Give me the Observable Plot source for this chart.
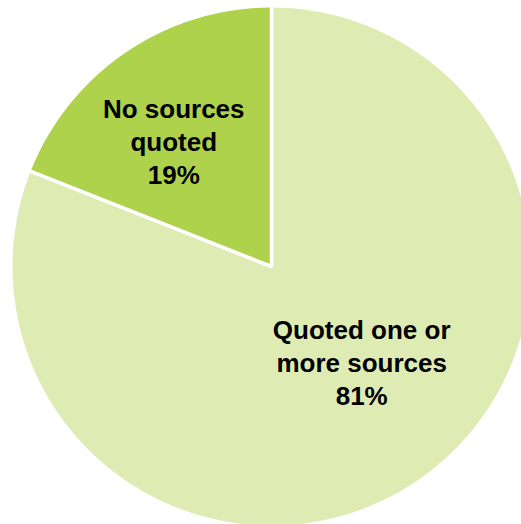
<!DOCTYPE html>
<html>
<head>
<meta charset="utf-8">
<script src="https://cdn.jsdelivr.net/npm/d3@7"></script>
<script src="https://cdn.jsdelivr.net/npm/@observablehq/plot@0.6"></script>
<style>
  html, body { margin: 0; padding: 0; background: #fff; overflow: hidden; }
</style>
</head>
<body>
<div id="chart"></div>
<script>
// Data
const categories = ["Quoted one or more sources", "No sources quoted"];
const labels = ["Quoted one or\nmore sources\n81%", "No sources\nquoted\n19%"];
const shares = [81, 19];
const colors = ["#deecb4", "#aed24b"];

// Build slice polygons (unit circle, clockwise from 12 o'clock)
const pie = d3.pie().sort(null).value((d, i) => shares[i])(categories);
const pts = [];
pie.forEach((p, i) => {
  const n = Math.max(2, Math.ceil((p.endAngle - p.startAngle) / (Math.PI / 360)));
  pts.push({cat: categories[i], x: 0, y: 0});
  for (let k = 0; k <= n; k++) {
    const a = p.startAngle + (p.endAngle - p.startAngle) * k / n;
    pts.push({cat: categories[i], x: Math.sin(a), y: Math.cos(a)});
  }
});

const labelPos = [
  {x: 0.346, y: -0.365},
  {x: -0.375, y: 0.482}
];
const labelData = categories.map((c, i) => ({cat: c, text: labels[i], ...labelPos[i]}));

const chart = Plot.plot({
  width: 521,
  height: 524,
  margin: 0,
  x: {domain: [-1, 1], range: [10.3, 531.7], axis: null},
  y: {domain: [-1, 1], range: [526.7, 5.3], axis: null},
  color: {domain: categories, range: colors},
  style: {background: "#fff", overflow: "hidden"},
  marks: [
    Plot.line(pts, {
      x: "x", y: "y", z: "cat", fill: "cat",
      stroke: "#fff", strokeWidth: 3.5, strokeLinejoin: "miter",
      curve: "linear-closed"
    }),
    Plot.text(labelData, {
      x: "x", y: "y", text: "text",
      fontSize: 26, fontWeight: "bold", fill: "#000",
      fontFamily: "Liberation Sans, Arial, sans-serif",
      lineHeight: 1.27, lineAnchor: "middle", textAnchor: "middle"
    })
  ]
});
document.getElementById("chart").appendChild(chart);
</script>
</body>
</html>
